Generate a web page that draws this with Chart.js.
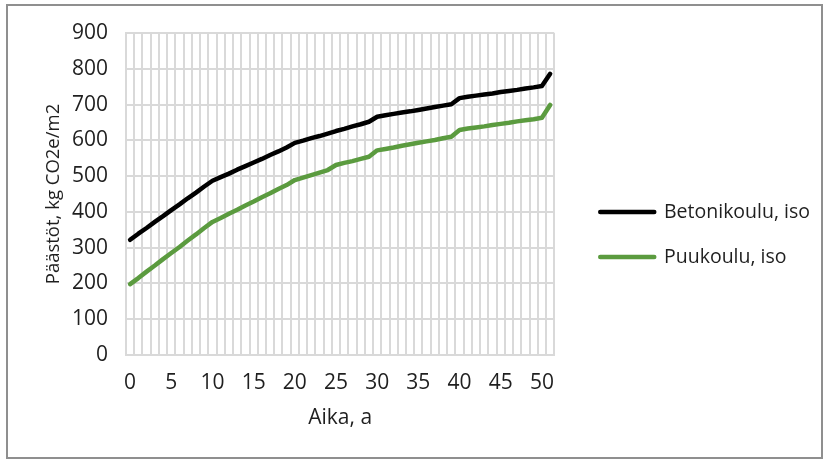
<!DOCTYPE html>
<html>
<head>
<meta charset="utf-8">
<script src="https://cdn.jsdelivr.net/npm/chart.js@4"></script>
<style>
    body { margin: 0; background: #fff; }
    #wrap { position: relative; width: 828px; height: 464px; }
    #frame { position: absolute; left: 6px; top: 4px; width: 813px; height: 451px; border: 2px solid #8f8f8f; pointer-events: none; }
</style>
</head>
<body>
<div id="wrap">
    <canvas id="chart" width="828" height="464"></canvas>
    <div id="frame"></div>
</div>
<script>
const years = ['0','1','2','3','4','5','6','7','8','9','10','11','12','13','14','15','16','17','18','19','20',
    '21','22','23','24','25','26','27','28','29','30','31','32','33','34','35','36','37','38','39','40',
    '41','42','43','44','45','46','47','48','49','50','51'];

const betoni = [322,339,355,372,388,405,421,438,454,471,487,
    497,507,518,528,538,548,559,569,580,
    593,599,606,612,619,626,632,639,645,652,
    666,670,674,678,681,685,689,693,697,701,
    718,722,725,728,731,735,738,741,745,748,752,786];

const puu = [198,215,233,250,268,285,302,320,337,355,372,
    383,395,406,418,429,441,452,464,475,
    489,496,503,510,517,531,537,542,548,554,
    572,576,580,585,589,593,597,601,606,610,
    629,633,636,639,643,646,649,653,656,659,663,699];

const seriesNames = ['Betonikoulu, iso', 'Puukoulu, iso'];
const seriesColors = ['#000000', '#5b9b3f'];
const yTitle = 'Päästöt, kg CO2e/m2';
const xTitle = 'Aika, a';

const gridColor = '#d9d9d9';
const textColor = '#1f1f1f';

Chart.defaults.font.family = "'Open Sans', sans-serif";
Chart.defaults.font.size = 21;
Chart.defaults.color = textColor;

const makeDataset = function(label, data, color){
    return {
        label,
        data,
        borderColor: color,
        backgroundColor: color,
        borderWidth: 4.5,
        borderCapStyle: 'round',
        borderJoinStyle: 'round',
        pointRadius: 0,
        pointHoverRadius: 0,
        pointBorderWidth: 4.5,
        tension: 0,
        fill: false
    };
};

const ctx = document.getElementById('chart');

new Chart(ctx, {
    type: 'line',
    data: {
        labels: years,
        datasets: [
            makeDataset(seriesNames[0], betoni, seriesColors[0]),
            makeDataset(seriesNames[1], puu, seriesColors[1])
        ]
    },
    options: {
        responsive: false,
        devicePixelRatio: 1,
        animation: false,
        layout: { padding: { left: 10, top: 33, right: 8, bottom: 28 } },
        plugins: {
            tooltip: { enabled: false },
            legend: {
                position: 'right',
                align: 'center',
                maxWidth: 320,
                labels: {
                    usePointStyle: true,
                    pointStyle: 'line',
                    pointStyleWidth: 54,
                    padding: 25.5,
                    color: textColor,
                    font: { size: 19.5 },
                    generateLabels: function(chart){
                        const items = Chart.defaults.plugins.legend.labels.generateLabels(chart);
                        return items.map(item => Object.assign(item, { lineCap: 'round', lineWidth: 4.5 }));
                    }
                }
            }
        },
        scales: {
            x: {
                type: 'category',
                offset: true,
                grid: { offset: true, color: gridColor, lineWidth: 2, drawTicks: false },
                border: { color: gridColor, width: 2 },
                ticks: {
                    autoSkip: false,
                    maxRotation: 0,
                    padding: 15.4,
                    callback: function(val, idx){
                        return idx % 5 === 0 ? this.getLabelForValue(val) : '';
                    }
                },
                title: { display: true, text: xTitle, padding: { top: 0, bottom: 5.4 } },
                afterFit: function(scale){ scale.height = 81; }
            },
            y: {
                min: 0,
                max: 900,
                grid: { color: gridColor, lineWidth: 2, drawTicks: false },
                border: { color: gridColor, width: 2 },
                ticks: { stepSize: 100, padding: 18 },
                title: { display: true, text: yTitle, font: { size: 18.5 }, padding: { top: 32.9, bottom: 0 } },
                afterFit: function(scale){ scale.width = 116; }
            },
            gap: {
                type: 'linear',
                position: 'right',
                display: true,
                grid: { display: false },
                border: { display: false },
                ticks: { display: false },
                afterFit: function(scale){ scale.width = 20.5; }
            }
        }
    }
});
</script>
</body>
</html>
